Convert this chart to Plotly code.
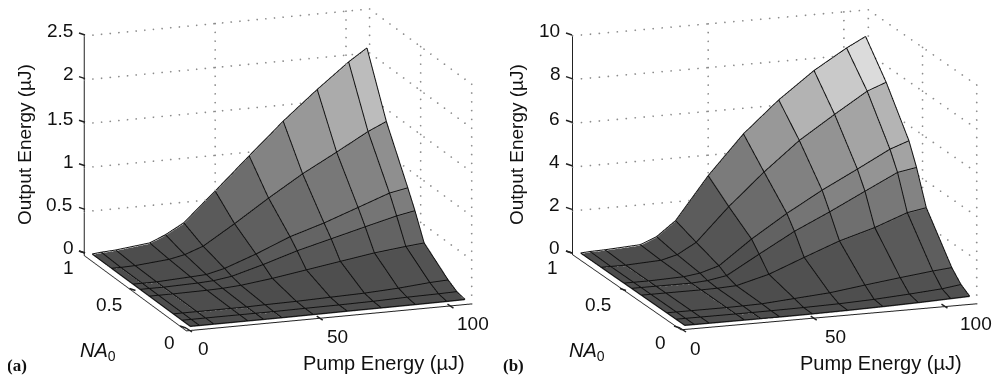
import numpy as np
import plotly.graph_objects as go

pump = [3, 6.5, 12, 25, 31, 38, 50, 63, 76, 89, 101, 108]
na = [0.04, 0.12, 0.205, 0.44, 0.53, 0.6, 0.81, 1.0]

z_a = [
    [0, 0, 0, 0, 0, 0, 0.002, 0.004, 0.005, 0.006, 0.008, 0.01],
    [0, 0, 0, 0, 0, 0, 0.003, 0.005, 0.01, 0.02, 0.025, 0.03],
    [0, 0, 0, 0, 0, 0.005, 0.01, 0.02, 0.03, 0.05, 0.08, 0.09],
    [0, 0, 0, 0.005, 0.01, 0.025, 0.07, 0.13, 0.19, 0.25, 0.29, 0.31],
    [0, 0, 0, 0.01, 0.02, 0.05, 0.15, 0.27, 0.37, 0.47, 0.56, 0.60],
    [0, 0, 0, 0.02, 0.03, 0.08, 0.21, 0.37, 0.49, 0.63, 0.76, 0.80],
    [0, 0, 0.005, 0.04, 0.077, 0.153, 0.375, 0.63, 0.87, 1.08, 1.28, 1.375],
    [0, 0.01, 0.02, 0.064, 0.14, 0.256, 0.584, 0.948, 1.306, 1.63, 1.91, 2.05],
]
z_b = [
    [0, 0, 0, 0, 0, 0, 0.01, 0.03, 0.06, 0.10, 0.15, 0.18],
    [0, 0, 0, 0, 0, 0.005, 0.02, 0.05, 0.11, 0.21, 0.32, 0.44],
    [0, 0, 0, 0, 0.01, 0.03, 0.14, 0.26, 0.47, 0.67, 0.84, 0.92],
    [0, 0, 0, 0, 0.01, 0.05, 0.44, 1.07, 1.68, 2.15, 2.7, 2.85],
    [0, 0, 0, 0, 0.05, 0.2, 1.05, 1.95, 2.7, 3.5, 4.23, 4.38],
    [0, 0, 0, 0.05, 0.15, 0.41, 1.5, 2.53, 3.45, 4.27, 5.05, 5.36],
    [0, 0, 0, 0.08, 0.27, 0.76, 2.26, 3.7, 5.0, 6.05, 6.98, 7.31],
    [0, 0.03, 0.05, 0.14, 0.44, 1.10, 3.02, 4.79, 6.2, 7.4, 8.3, 8.75],
]

pump_lim = 109
na_lim = 1.0
pump_ticks = [0, 50, 100]
na_ticks = [0, 0.5, 1]
z_ticks_a = [0, 0.5, 1, 1.5, 2, 2.5]
z_ticks_b = [0, 2, 4, 6, 8, 10]
pump_labels = ["0", "50", "100"]
na_labels = ["0", "0.5", "1"]
z_labels_a = ["0", "0.5", "1", "1.5", "2", "2.5"]
z_labels_b = ["0", "2", "4", "6", "8", "10"]

FONT = "Liberation Sans"
DOT = "#8c8c8c"
PAGE_MARGIN = 8  # the page's body margin offsets the figure


def surface_traces(z, scene, zlim):
    z = np.array(z, float)
    nr, nc = z.shape
    X, Y = np.meshgrid(pump, na)
    idx = lambda r, c: r * nc + c
    i, j, k, cell = [], [], [], []
    for r in range(nr - 1):
        for c in range(nc - 1):
            a, b, d, e = idx(r, c), idx(r, c + 1), idx(r + 1, c + 1), idx(r + 1, c)
            i += [a, a]
            j += [b, d]
            k += [d, e]
            cell += [z[r, c], z[r, c]]
    out = [go.Mesh3d(
        x=X.ravel(), y=Y.ravel(), z=z.ravel(), i=i, j=j, k=k,
        intensity=cell, intensitymode="cell", cmin=0, cmax=z.max(),
        colorscale=[[0, "#4d4d4d"], [1, "#ffffff"]], showscale=False,
        flatshading=True, hoverinfo="skip", scene=scene,
        lighting=dict(ambient=1, diffuse=0, specular=0, roughness=1, fresnel=0),
    )]
    lift = zlim * 0.004
    lx, ly, lz = [], [], []
    for r in range(nr):
        lx += list(X[r]) + [None]
        ly += list(Y[r]) + [None]
        lz += list(z[r] + lift) + [None]
    for c in range(nc):
        lx += list(X[:, c]) + [None]
        ly += list(Y[:, c]) + [None]
        lz += list(z[:, c] + lift) + [None]
    out.append(go.Scatter3d(x=lx, y=ly, z=lz, mode="lines", scene=scene, hoverinfo="skip",
                            line=dict(color="#111111", width=2), showlegend=False))
    return out


def wall_grid(zticks, scene):
    zmax = zticks[-1]
    lx, ly, lz = [], [], []

    def seg(p, q, n):
        for s in np.linspace(0, 1, n):
            lx.append(p[0] + (q[0] - p[0]) * s)
            ly.append(p[1] + (q[1] - p[1]) * s)
            lz.append(p[2] + (q[2] - p[2]) * s)

    for t in zticks[1:]:
        seg((0, na_lim, t), (pump_lim, na_lim, t), 34)
        seg((pump_lim, na_lim, t), (pump_lim, 0, t), 16)
    for p in pump_ticks[1:] + [pump_lim]:
        seg((p, na_lim, 0), (p, na_lim, zmax), 26)
    for n in [0, 0.5]:
        seg((pump_lim, n, 0), (pump_lim, n, zmax), 26)
    return go.Scatter3d(x=lx, y=ly, z=lz, mode="markers", scene=scene, hoverinfo="skip",
                        marker=dict(color=DOT, size=1, line=dict(width=0)), showlegend=False)


def axis(rng, tickvals):
    return dict(
        range=rng, tickvals=tickvals, title=dict(text=""), showticklabels=False,
        showgrid=False, zeroline=False, showbackground=False, showspikes=False,
        showline=True, linecolor="#222222", linewidth=2, ticks="",
    )


def scene_layout(domain_x, zticks, aspect, vec, center):
    return dict(
        domain=dict(x=domain_x, y=[0, 1]),
        xaxis=axis([0, pump_lim], pump_ticks),
        yaxis=axis([0, na_lim], na_ticks),
        zaxis=axis([0, zticks[-1]], zticks),
        aspectmode="manual", aspectratio=dict(x=aspect[0], y=aspect[1], z=aspect[2]),
        camera=dict(projection=dict(type="orthographic"), up=dict(x=0, y=0, z=1),
                    eye=dict(x=vec[0] + center[0], y=vec[1] + center[1], z=vec[2] + center[2]),
                    center=dict(x=center[0], y=center[1], z=center[2])),
    )


def eye_of(az, el, r):
    a, e = np.radians(az), np.radians(el)
    return (r * np.sin(a) * np.cos(e), -r * np.cos(a) * np.cos(e), r * np.sin(e))


def tick_shapes(front, back, top, zticks):
    """Short 2D tick marks along the three drawn axes, in page pixels."""
    out = []

    def mark(x0, y0, dx, dy):
        out.append(dict(type="line", xref="paper", yref="paper", layer="above",
                        x0=(x0 - PAGE_MARGIN) / 1000, y0=1 - (y0 - PAGE_MARGIN) / 386,
                        x1=(x0 + dx - PAGE_MARGIN) / 1000, y1=1 - (y0 + dy - PAGE_MARGIN) / 386,
                        line=dict(color="#222222", width=1.5)))

    for t in zticks:
        s = t / zticks[-1]
        mark(back[0] + (top[0] - back[0]) * s, back[1] + (top[1] - back[1]) * s, -6, -2)
    for n in na_ticks:
        s = n / na_lim
        mark(front[0] + (back[0] - front[0]) * s, front[1] + (back[1] - front[1]) * s, -6, -2)
    for p in pump_ticks:
        s = p / pump_lim
        mark(front[0] + 285 * s, front[1] - 26 * s, 6, 4)
    return out


fig = go.Figure()
for t in surface_traces(z_a, "scene", 2.5):
    fig.add_trace(t)
fig.add_trace(wall_grid(z_ticks_a, "scene"))
for t in surface_traces(z_b, "scene2", 10):
    fig.add_trace(t)
fig.add_trace(wall_grid(z_ticks_b, "scene2"))

notes = [
    dict(x=25, y=145, text="Output Energy (µJ)", textangle=-90, size=19),
    dict(x=517, y=145, text="Output Energy (µJ)", textangle=-90, size=19),
    dict(x=384, y=363, text="Pump Energy (µJ)", size=20),
    dict(x=881, y=363, text="Pump Energy (µJ)", size=20),
    dict(x=98, y=351, text="<i>NA</i><sub>0</sub>", size=20),
    dict(x=587, y=351, text="<i>NA</i><sub>0</sub>", size=20),
]
TICK = 19
tick_places = [
    (z_labels_a, [(68, 247), (59, 204), (68, 161), (60, 118), (68, 74), (60, 31)]),
    (na_labels, [(169, 342), (109, 304), (68, 267)]),
    (pump_labels, [(203, 348), (337, 336), (473, 323)]),
    (z_labels_b, [(554, 247), (554, 204), (554, 161), (554, 118), (555, 74), (549, 31)]),
    (na_labels, [(660, 342), (598, 304), (552, 267)]),
    (pump_labels, [(695, 348), (835, 336), (976, 323)]),
]
for labels, places in tick_places:
    for s, (px, py) in zip(labels, places):
        notes.append(dict(x=px, y=py, text=s, size=TICK))

ann = [dict(xref="paper", yref="paper",
            x=(n["x"] - PAGE_MARGIN) / 1000, y=1 - (n["y"] - PAGE_MARGIN) / 386, text=n["text"],
            showarrow=False, textangle=n.get("textangle", 0), xanchor="center", yanchor="middle",
            font=dict(family=FONT, size=n["size"], color="#111111")) for n in notes]
for x, t in [(17, "(a)"), (513, "(b)")]:
    ann.append(dict(xref="paper", yref="paper", x=(x - PAGE_MARGIN) / 1000,
                    y=1 - (365 - PAGE_MARGIN) / 386, text=f"<b>{t}</b>",
                    showarrow=False, xanchor="center", yanchor="middle",
                    font=dict(family="Liberation Serif", size=17, color="#111111")))

shapes = tick_shapes((186, 328), (85, 253), (85, 35), z_ticks_a) + \
         tick_shapes((680, 328), (572, 253), (572, 35), z_ticks_b)

fig.update_layout(
    width=1000, height=386, margin=dict(l=0, r=0, t=0, b=0), paper_bgcolor="white",
    showlegend=False, annotations=ann, shapes=shapes,
    scene=scene_layout([0.02, 0.52], z_ticks_a, (1.57, 1.57, 1.18),
                       eye_of(-19.7, 15.3, 2), (0, 0, -0.167)),
    scene2=scene_layout([0.5, 1.0], z_ticks_b, (1.627, 1.675, 1.17),
                        eye_of(-19.6, 14.3, 2), (-0.081, 0.029, -0.167)),
)
fig.write_html("out.html")
